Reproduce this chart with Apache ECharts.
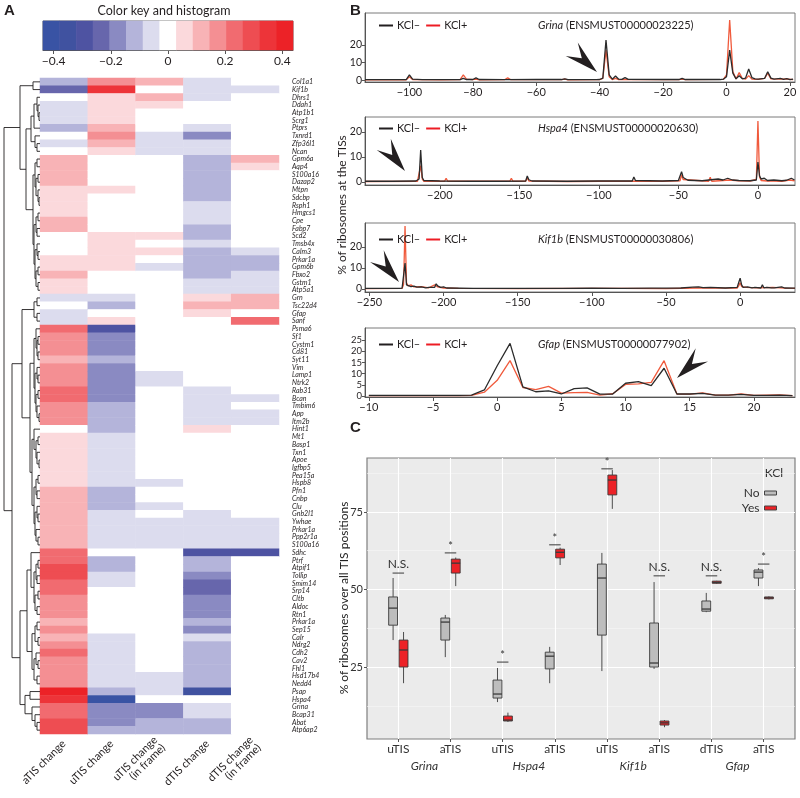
<!DOCTYPE html>
<html>
<head>
<meta charset="utf-8">
<script src="https://cdn.jsdelivr.net/npm/echarts@6/dist/echarts.min.js"></script>
<style>
html, body { margin: 0; padding: 0; background: #fff; }
#chart { width: 800px; height: 798px; }
</style>
</head>
<body>
<div id="chart"></div>
<script>
// ---------- panel A : heatmap ----------
var genes = ['Col1a1','Kif1b','Dhrs1','Ddah1','Atp1b1','Scrg1','Ptprs','Txnrd1','Zfp36l1','Ncan',
  'Gpm6a','Aqp4','S100a16','Dazap2','Mtpn','Sdcbp','Rsph1','Hmgcs1','Cpe','Fabp7',
  'Scd2','Tmsb4x','Calm3','Prkar1a','Gpm6b','Fbxo2','Gstm1','Atp5a1','Grn','Tsc22d4',
  'Gfap','Sanf','Psma6','Sf1','Cystm1','Cd81','Syt11','Vim','Lamp1','Ntrk2',
  'Rab31','Bcan','Tmbim6','App','Itm2b','Hint1','Mt1','Basp1','Txn1','Apoe',
  'Igfbp5','Pea15a','Hspb8','Pfn1','Cnbp','Clu','Gnb2l1','Ywhae','Prkar1a','Ppp2r1a',
  'S100a16','Sdhc','Ptrf','Atpif1','Tollip','Smim14','Srp14','Cltb','Aldoc','Rtn1',
  'Prkar1a','Sep15','Calr','Ndrg2','Cdh2','Cav2','Fhl1','Hsd17b4','Nedd4','Psap',
  'Hspa4','Grina','Bcap31','Abat','Atp6ap2'];
var colLabels = ['aTIS change','uTIS change','uTIS change\n(in frame)','dTIS change','dTIS change\n(in frame)'];

var aTIS = [-0.12,-0.23,0,-0.06,-0.06,-0.06,-0.12,0,-0.06,0,
  0.12,0.12,0.12,0.12,0.06,0.06,0.06,0.06,0.12,0.12,
  0,0,0,0.06,0.06,0.12,0.06,0.06,-0.06,0,
  -0.06,-0.06,0.23,0.17,0.17,0.17,0.12,0.17,0.17,0.17,
  0.23,0.23,0.17,0.17,0.17,0,0.06,0.06,0.06,0.06,
  0.06,0.06,0.06,0.12,0.12,0.12,0.12,0.12,0.12,0.12,
  0.12,0.23,0.23,0.29,0.29,0.23,0.23,0.17,0.17,0.17,
  0.12,0.17,0.12,0.17,0.23,0.17,0.17,0.17,0.17,0.41,
  0.35,0.23,0.23,0.29,0.29];
var uTIS = [0.17,0.35,0.06,0.06,0.06,0.06,0.12,0.17,0.12,0.06,
  0,0,0,0,0.06,0,0,0,0,0,
  0.06,0.06,0.06,0.06,0.06,0,0,0,-0.06,-0.12,
  0,0.06,-0.29,-0.17,-0.17,-0.17,-0.12,-0.17,-0.17,-0.17,
  -0.17,-0.17,-0.12,-0.12,-0.12,-0.12,-0.06,-0.06,-0.06,-0.06,
  -0.06,-0.06,-0.06,-0.12,-0.12,-0.12,-0.06,-0.06,-0.06,-0.06,
  -0.06,0,-0.12,-0.12,-0.06,-0.06,0,0,0,0,
  0,0,-0.06,-0.06,-0.06,-0.06,-0.06,-0.06,-0.06,-0.12,
  -0.41,-0.17,-0.17,-0.17,-0.12];
var uTISframe = [0.12,0,0.12,0.06,0,0,0,-0.06,-0.06,-0.06,
  0,0,0,0,0,0,0,0,0,0,
  0.06,0,0.06,0,-0.06,0,0,0,0,0,
  0,0,0,0,0,0,0,0,-0.06,-0.06,
  0,0,0,0,0,0,0,0,0,0,
  0,0,-0.06,0,0,-0.06,0,-0.06,-0.06,-0.06,
  -0.06,0,0,0,0,0,0,0,0,0,
  0,0,0,0,0,0,0,-0.06,-0.06,-0.06,
  0,-0.17,-0.17,-0.12,-0.12];
var dTIS = [-0.06,-0.06,-0.06,0,0,0,-0.06,-0.17,-0.06,-0.06,
  -0.12,-0.12,-0.12,-0.12,-0.12,-0.12,-0.06,-0.06,-0.06,-0.12,
  -0.12,-0.06,-0.12,-0.12,-0.12,-0.12,-0.06,-0.06,0.06,0.12,
  0.06,0,0,0,0,0,0,0,0,0,
  -0.06,-0.06,-0.06,-0.06,-0.06,0.06,0,0,0,0,
  0,0,0,0,0,0,-0.06,-0.06,-0.06,-0.06,
  -0.06,-0.29,-0.12,-0.12,-0.17,-0.23,-0.23,-0.17,-0.17,-0.17,
  -0.12,-0.17,-0.06,-0.12,-0.12,-0.12,-0.12,-0.12,-0.12,-0.35,
  0,-0.06,-0.06,-0.12,-0.12];
var dTISframe = [0,-0.06,0,0,0,0,0,0,0,0,
  0.12,0.06,0,0,0,0,0,0,0,0,
  0,0,-0.06,-0.12,-0.12,-0.06,-0.06,-0.06,0.12,0.12,
  0,0.23,0,0,0,0,0,0,0,0,
  0,-0.06,0,-0.06,-0.06,0,0,0,0,0,
  0,0,0,0,0,0,0,-0.06,-0.06,-0.06,
  -0.06,-0.29,0,0,0,0,0,0,0,0,
  0,0,0,0,0,0,0,0,0,0,
  0,0,0,0,0];

// colour key (15 bins)
var keyValues = [-0.41,-0.35,-0.29,-0.23,-0.17,-0.12,-0.06,0,0.06,0.12,0.17,0.23,0.29,0.35,0.41];
var keyEdges = [-0.4375,-0.3792,-0.3208,-0.2625,-0.2042,-0.1458,-0.0875,-0.0292,0.0292,0.0875,0.1458,0.2042,0.2625,0.3208,0.3792,0.4375];
var keyColors = ['#3953a4','#4052a0','#4e53a2','#6766ac','#8a8ac2','#b4b4da','#dcdcee','#ffffff',
  '#fbd9dc','#f8b3b6','#f48f93','#f16b70','#ee4d52','#ed3439','#ec2227'];
var keyTicks = [-0.4, -0.2, 0, 0.2, 0.4];

// row dendrogram: [height, left, right], leaves = row index
var dendro = [36,
  [20, [7, 0, 1],
       [14, [9, [6, [3, 2, [2, 3, [1, 4, 5]]], 6], [5, 7, [3, 8, 9]]],
            [7, [5, [3, 10, 11], [4, [2, 12, 13], [2, 14, [1, 15, 16]]]],
                [6, [4, [2, 17, 18], [3, 19, 20]], [5, [3, 21, [2, 22, 23]], [4, [2, 24, 25], [2, 26, 27]]]]]]],
  [28, [18, [6, [3, 28, 29], [3, 30, 31]],
            [10, [6, [4, 32, [3, [2, 33, 34], [2, 35, 36]]], [5, [3, 37, [2, 38, 39]], [4, [2, 40, 41], [3, 42, [1, 43, 44]]]]],
                 [8, [6, 45, [4, [2, 46, 47], [3, 48, [1, 49, 50]]]], [6, [4, [2, 51, 52], [3, 53, 54]], [5, [3, 55, [2, 56, 57]], [4, 58, [2, 59, 60]]]]]]],
       [20, [13, [9, 61, [6, [4, [2, 62, 63], [3, 64, 65]], [5, [2, 66, 67], [3, 68, 69]]]],
                 [8, [5, [3, 70, 71], [2, 72, 73]], [6, [4, 74, [2, 75, 76]], [3, 77, 78]]]],
            [15, [10, 79, 80], [8, 81, [5, 82, [3, 83, 84]]]]]]];

// ---------- panel B : ribosome profiles ----------
var grinaMinus = [[-114,0.3],[-101,0.4],[-100,3],[-99,0.6],[-96,0.3],[-84,0.3],[-83,1],[-82,0.4],[-80,0.4],[-79,1.3],[-78,0.4],[-70,0.3],[-60,0.4],[-52,0.4],[-51,0.8],[-50,0.3],[-41,0.3],[-40,0.4],[-39,1.2],[-38,22.7],[-37,3],[-36,0.6],[-35,2.4],[-34,0.6],[-33,0.5],[-32,1.5],[-31,0.5],[-20,0.4],[-15,0.4],[-14,1],[-13,0.4],[-2,0.4],[-1,0.6],[0,2],[1,17],[2,4],[3,0.8],[4,2.5],[5,0.8],[6,1.2],[7,6.3],[8,1.5],[9,0.8],[10,0.6],[12,1],[13,4.8],[14,1.2],[15,0.6],[17,1],[18,0.5],[19,0.9],[20,0.4],[21,0.6]];
var grinaPlus = [[-114,0.2],[-101,0.2],[-100,2],[-99,0.4],[-90,0.2],[-84,0.3],[-83,3],[-82,0.6],[-80,0.3],[-79,0.6],[-78,0.2],[-70,0.3],[-69,1.3],[-68,0.3],[-52,0.3],[-51,0.6],[-50,0.2],[-40,0.3],[-39,1],[-38,17],[-37,2],[-36,0.4],[-35,1],[-34,0.3],[-20,0.3],[-15,0.3],[-14,0.6],[-13,0.3],[-1,0.5],[0,3],[1,34],[2,5],[3,0.7],[4,4.3],[5,1],[6,0.6],[7,2.6],[8,0.6],[10,0.5],[12,1],[13,4],[14,0.8],[17,0.6],[19,0.7],[21,0.4]];
var hspa4Minus = [[-247,0.3],[-230,0.3],[-215,0.4],[-214,0.5],[-213,1.2],[-212,12.8],[-211,1.8],[-210,0.6],[-205,0.5],[-200,0.4],[-180,0.3],[-160,0.3],[-146,0.4],[-145,2.4],[-144,0.9],[-142,0.4],[-120,0.3],[-100,0.4],[-79,0.4],[-78,2],[-77,0.6],[-60,0.4],[-50,0.6],[-49,1],[-48,4.1],[-47,1.8],[-46,1.4],[-44,0.7],[-35,0.5],[-28,1],[-25,1.2],[-22,0.8],[-19,1.5],[-16,0.8],[-12,0.6],[-5,0.5],[-1,0.8],[0,8],[1,2.5],[2,1.2],[3,0.7],[4,1.5],[6,0.6],[10,0.8],[15,0.5],[18,0.7],[21,1.5],[23,0.8]];
var hspa4Plus = [[-247,0.2],[-214,0.3],[-213,1],[-212,6.5],[-211,1.2],[-210,0.3],[-197,0.3],[-196,1.5],[-195,0.3],[-156,0.3],[-155,1.5],[-154,0.3],[-146,0.3],[-145,1.6],[-144,0.4],[-120,0.2],[-99,0.3],[-98,1],[-97,0.3],[-60,0.3],[-49,0.5],[-48,2.8],[-47,1],[-46,0.5],[-31,0.3],[-30,1.9],[-29,0.3],[-22,0.6],[-18,0.8],[-12,0.5],[-5,0.4],[-1,1],[0,24.4],[1,2],[2,0.6],[6,0.4],[10,0.4],[15,0.3],[20,0.8],[23,0.5]];
var kif1bMinus = [[-253,0.3],[-230,0.3],[-228,0.4],[-227,1],[-226,12.4],[-225,2],[-224,1.8],[-222,1.2],[-220,1.4],[-218,0.9],[-215,1],[-212,0.6],[-210,0.8],[-206,0.8],[-205,2.5],[-204,1.5],[-202,0.8],[-200,1],[-198,0.5],[-180,0.3],[-150,0.3],[-120,0.3],[-100,0.4],[-80,0.3],[-60,0.4],[-40,0.5],[-32,0.9],[-28,1],[-25,0.7],[-20,0.8],[-10,0.5],[-2,0.8],[-1,3],[0,5.2],[1,2],[2,0.8],[5,1],[8,0.6],[10,0.8],[14,0.5],[15,2],[16,0.6],[18,0.8],[21,0.6],[22,1.5],[23,0.6],[28,1],[30,0.5],[37,0.4]];
var kif1bPlus = [[-253,0.2],[-228,0.3],[-227,2],[-226,30],[-225,3],[-224,1.5],[-222,2],[-220,1],[-215,1.2],[-210,0.6],[-206,2],[-204,1],[-200,0.5],[-190,0.3],[-150,0.2],[-100,0.3],[-82,0.3],[-81,1],[-80,0.3],[-50,0.2],[-30,0.5],[-10,0.4],[-2,0.5],[-1,1.5],[0,3],[1,1.2],[2,0.5],[4,0.8],[12,0.6],[22,0.8],[30,0.4],[37,0.3]];
var gfapPos = [-10,-9,-8,-7,-6,-5,-4,-3,-2,-1,0,1,2,3,4,5,6,7,8,9,10,11,12,13,14,15,16,17,18,19,20,21,22,23];
var gfapMinus = [0.3,0.3,0.3,0.3,0.3,0.3,0.3,0.3,0.4,2.7,13.5,23.5,4.1,1.9,2.3,0.9,3.3,3.6,0.8,0.9,5.7,6.4,4.6,12.4,0.9,0.9,1.2,0.4,0.4,0.7,0.3,0.3,0.4,0.2];
var gfapPlus = [0.2,0.2,0.2,0.2,0.2,0.2,0.2,0.2,0.3,1.7,7,15.8,3.8,2.8,4.3,1.3,1.5,1.6,0.4,1,5.2,5.4,6.1,15.8,0.9,0.8,1.4,0.4,0.4,0.9,0.3,0.4,0.5,0.2];

// ---------- panel C : boxplots ----------
var tisLabels = ['uTIS','aTIS','uTIS','aTIS','uTIS','aTIS','dTIS','aTIS'];
var geneGroups = ['Grina','Hspa4','Kif1b','Gfap'];
// [min, Q1, median, Q3, max]
var boxNo = [[33.7,38.5,44,47.6,53.7],[28.2,33.7,39.5,40.8,41.8],[13.7,15,16.3,20.8,24.7],[19.8,24.4,28.5,29.8,31.5],
  [23.7,35.3,53.7,58.2,61.8],[24.4,25,26.3,39.2,52.4],[42.7,43,43.7,46.3,48.9],[51.1,53.7,55.6,56.3,56.9]];
var boxYes = [[19.8,25,30.5,33.7,36.3],[51.1,55.3,58.5,59.8,60.3],[7.3,7.6,7.9,9.2,10.3],[57.9,60.2,62,63,63.5],
  [76,80.5,85.3,86.9,88.5],[5.6,6.3,7,7.6,7.9],[51.8,52,52.3,52.7,52.8],[46.8,47,47.3,47.6,47.8]];
var sigText = ['N.S.','*','*','*','*','N.S.','N.S.','*'];
var sigLevel = [55.3,61.8,26.6,64.4,88.9,54.4,54.4,58.2];

// ---------- helpers ----------
var FONT = 'Lato';
var DARK = '#231f20';

function fmtNum(v) {
  return v < 0 ? '\u2212' + Math.abs(v) : String(v);
}

var dendroSegs = [];
function walk(node) {
  if (typeof node === 'number') return { y: node + 0.5, h: 0 };
  var a = walk(node[1]), b = walk(node[2]);
  dendroSegs.push([node[0], a.y, b.y, a.h, b.h]);
  return { y: (a.y + b.y) / 2, h: node[0] };
}
walk(dendro);

var heatData = [];
[aTIS, uTIS, uTISframe, dTIS, dTISframe].forEach(function (col, c) {
  col.forEach(function (v, r) { heatData.push([c, r, v]); });
});

var pieces = keyColors.map(function (c, i) {
  return { gte: keyEdges[i], lt: keyEdges[i + 1], color: c };
});

function zip(pos, vals) {
  return pos.map(function (p, i) { return [p, vals[i]]; });
}

var bCharts = [
  { top: 13, height: 69, xmin: -114, xmax: 21.6, ymin: -1, ymax: 38, xt: [-100,-80,-60,-40,-20,0,20], yt: [0,10,20], minus: grinaMinus, plus: grinaPlus, gene: 'Grina', id: 'ENSMUST00000023225', ty: 22 },
  { top: 117, height: 68, xmin: -247, xmax: 23.3, ymin: -1.2, ymax: 26, xt: [-200,-150,-100,-50,0], yt: [0,10,20], minus: hspa4Minus, plus: hspa4Plus, gene: 'Hspa4', id: 'ENSMUST00000020630', ty: 125 },
  { top: 223, height: 69, xmin: -253, xmax: 37, ymin: -1.4, ymax: 31.4, xt: [-250,-200,-150,-100,-50,0], yt: [0,10,20], minus: kif1bMinus, plus: kif1bPlus, gene: 'Kif1b', id: 'ENSMUST00000030806', ty: 236 },
  { top: 328, height: 69, xmin: -10.3, xmax: 23.2, ymin: -0.45, ymax: 30.4, xt: [-10,-5,0,5,10,15,20], yt: [0,5,10,15,20,25], minus: zip(gfapPos, gfapMinus), plus: zip(gfapPos, gfapPlus), gene: 'Gfap', id: 'ENSMUST00000077902', ty: 341 }
];

function arrowHead(tip, from, len, hw) {
  var dx = tip[0] - from[0], dy = tip[1] - from[1];
  var d = Math.sqrt(dx * dx + dy * dy);
  var ux = dx / d, uy = dy / d, nx = -uy, ny = ux;
  var bx = tip[0] - ux * len, by = tip[1] - uy * len;
  return {
    type: 'polygon',
    shape: { points: [tip, [bx + nx * hw, by + ny * hw], [tip[0] - ux * len * 0.6, tip[1] - uy * len * 0.6], [bx - nx * hw, by - ny * hw]] },
    style: { fill: DARK }
  };
}

// ---------- option ----------
var grids = [
  { left: 43, top: 21, width: 250, height: 29, show: true, borderColor: '#666', borderWidth: 1 },
  { left: 40, top: 78, width: 239, height: 656 },
  { left: 3, top: 78, width: 37, height: 656 }
];
var xAxes = [
  { type: 'category', gridIndex: 0, data: keyValues, show: false },
  { type: 'value', gridIndex: 0, min: -0.4375, max: 0.4375, position: 'bottom',
    axisLine: { show: true, onZero: false, lineStyle: { color: '#555' } },
    axisTick: { show: true, customValues: keyTicks, length: 4, lineStyle: { color: '#555' } },
    axisLabel: { customValues: keyTicks, formatter: fmtNum, fontSize: 12, color: DARK, fontFamily: FONT, margin: 5 },
    splitLine: { show: false } },
  { type: 'category', gridIndex: 1, data: colLabels, position: 'bottom',
    axisLine: { show: false }, axisTick: { show: false },
    axisLabel: { rotate: 45, interval: 0, fontSize: 11, color: DARK, fontFamily: FONT, margin: 8 } },
  { type: 'value', gridIndex: 2, min: 0, max: 37, inverse: true, show: false }
];
var yAxes = [
  { type: 'category', gridIndex: 0, data: ['key'], show: false },
  { type: 'category', gridIndex: 1, data: genes, inverse: true, position: 'right',
    axisLine: { show: false }, axisTick: { show: false },
    axisLabel: { interval: 0, fontSize: 7, fontStyle: 'italic', color: DARK, fontFamily: FONT, margin: 13 } },
  { type: 'value', gridIndex: 2, min: 0, max: genes.length, inverse: true, show: false }
];
var series = [
  { type: 'heatmap', xAxisIndex: 0, yAxisIndex: 0, silent: true,
    data: keyValues.map(function (v, i) { return [i, 0, v]; }) },
  { type: 'heatmap', xAxisIndex: 2, yAxisIndex: 1, silent: true, data: heatData },
  { type: 'custom', xAxisIndex: 3, yAxisIndex: 2, silent: true, data: dendroSegs,
    renderItem: function (params, api) {
      var h = api.value(0), ya = api.value(1), yb = api.value(2), ha = api.value(3), hb = api.value(4);
      return { type: 'polyline',
        shape: { points: [api.coord([ha, ya]), api.coord([h, ya]), api.coord([h, yb]), api.coord([hb, yb])] },
        style: { stroke: DARK, lineWidth: 0.9, fill: 'none' } };
    } }
];
var titles = [];
var legends = [];

bCharts.forEach(function (b, k) {
  var gi = grids.length;
  grids.push({ left: 365, top: b.top, width: 430, height: b.height, show: true, borderColor: '#7a7a7a', borderWidth: 1 });
  var xi = xAxes.length, yi = yAxes.length;
  xAxes.push({ type: 'value', gridIndex: gi, min: b.xmin, max: b.xmax,
    axisLine: { show: true, onZero: false, lineStyle: { color: '#555' } },
    axisTick: { show: true, customValues: b.xt, length: 4, lineStyle: { color: '#555' } },
    axisLabel: { customValues: b.xt, formatter: fmtNum, fontSize: 11, color: DARK, fontFamily: FONT, margin: 5 },
    splitLine: { show: false } });
  yAxes.push({ type: 'value', gridIndex: gi, min: b.ymin, max: b.ymax,
    axisLine: { show: true, onZero: false, lineStyle: { color: '#555' } },
    axisTick: { show: true, customValues: b.yt, length: 3, lineStyle: { color: '#555' } },
    axisLabel: { customValues: b.yt, fontSize: b.yt.length > 3 ? 9.5 : 10.5, color: DARK, fontFamily: FONT, margin: 3 },
    splitLine: { show: false } });
  series.push({ name: 'KCl+', type: 'line', xAxisIndex: xi, yAxisIndex: yi, data: b.plus,
    showSymbol: false, silent: true, color: '#f05a3c', lineStyle: { width: 1.3 } });
  series.push({ name: 'KCl\u2013', type: 'line', xAxisIndex: xi, yAxisIndex: yi, data: b.minus,
    showSymbol: false, silent: true, color: '#2b2b2b', lineStyle: { width: 1.3 } });
  titles.push({ text: '{i|' + b.gene + '} (' + b.id + ')', left: 533, top: b.ty - 7,
    textStyle: { fontSize: 11, fontWeight: 'normal', color: DARK, fontFamily: FONT,
      rich: { i: { fontStyle: 'italic', fontSize: 11, color: DARK, fontFamily: FONT } } } });
  legends.push({ left: 374, top: b.ty - 7, icon: 'rect', itemWidth: 14, itemHeight: 2, itemGap: 6,
    selectedMode: false, textStyle: { fontSize: 11, color: DARK, fontFamily: FONT, padding: [0, 0, 0, -1] },
    data: [{ name: 'KCl\u2013', itemStyle: { color: DARK } }, { name: 'KCl+', itemStyle: { color: '#ed1c24' } }] });
});

// panel C grid
var gC = grids.length;
grids.push({ left: 367, top: 458, width: 428, height: 281, show: true, backgroundColor: '#ebebeb', borderColor: '#7f7f7f', borderWidth: 1.2 });
var xC = xAxes.length;
xAxes.push({ type: 'value', gridIndex: gC, min: -0.6, max: 7.6,
  axisLine: { show: false, onZero: false },
  axisTick: { show: true, customValues: [0,1,2,3,4,5,6,7], length: 3, lineStyle: { color: '#555' } },
  axisLabel: { customValues: [0,1,2,3,4,5,6,7], formatter: function (v) { return tisLabels[v]; },
    fontSize: 12, color: '#333', fontFamily: FONT, margin: 4 },
  splitLine: { show: true, lineStyle: { color: '#ffffff', width: 1.1 } } });
xAxes.push({ type: 'value', gridIndex: gC, min: -0.6, max: 7.6, position: 'bottom', offset: 17,
  axisLine: { show: false, onZero: false }, axisTick: { show: false, customValues: [0.5,2.5,4.5,6.5] },
  axisLabel: { customValues: [0.5,2.5,4.5,6.5], formatter: function (v) { return geneGroups[(v - 0.5) / 2]; },
    fontSize: 12, fontStyle: 'italic', color: '#333', fontFamily: FONT, margin: 4 },
  splitLine: { show: false } });
var yC = yAxes.length;
yAxes.push({ type: 'value', gridIndex: gC, min: 1.8, max: 92.4, position: 'left',
  axisLine: { show: false, onZero: false },
  axisTick: { show: true, customValues: [25,50,75], length: 3, lineStyle: { color: '#555' } },
  axisLabel: { customValues: [25,50,75], fontSize: 11, color: '#333', fontFamily: FONT, margin: 4 },
  splitLine: { show: true, lineStyle: { color: '#ffffff', width: 1.1 } } });
yAxes.push({ type: 'value', gridIndex: gC, min: 1.8, max: 92.4, position: 'right',
  axisLine: { show: false, onZero: false }, axisTick: { show: false, customValues: [12.5,37.5,62.5,87.5] },
  axisLabel: { show: false, customValues: [12.5,37.5,62.5,87.5] },
  splitLine: { show: true, lineStyle: { color: '#f7f7f7', width: 0.6 } } });

function boxRenderer(offsetFrac) {
  return function (params, api) {
    var c = api.value(0);
    var band = api.size([1, 0])[0];
    var w = band * 0.17;
    var pMin = api.coord([c, api.value(1)]), pQ1 = api.coord([c, api.value(2)]);
    var pMed = api.coord([c, api.value(3)]), pQ3 = api.coord([c, api.value(4)]);
    var pMax = api.coord([c, api.value(5)]);
    var x = pMin[0] + band * offsetFrac;
    var st = { stroke: '#3a3a3a', lineWidth: 0.9 };
    return { type: 'group', children: [
      { type: 'line', shape: { x1: x, y1: pMax[1], x2: x, y2: pQ3[1] }, style: st },
      { type: 'line', shape: { x1: x, y1: pQ1[1], x2: x, y2: pMin[1] }, style: st },
      { type: 'rect', shape: { x: x - w / 2, y: pQ3[1], width: w, height: Math.max(pQ1[1] - pQ3[1], 1) },
        style: { fill: api.visual('color'), stroke: '#3a3a3a', lineWidth: 0.9 } },
      { type: 'line', shape: { x1: x - w / 2, y1: pMed[1], x2: x + w / 2, y2: pMed[1] }, style: { stroke: '#3a3a3a', lineWidth: 1.3 } }
    ] };
  };
}
series.push({ name: 'No', type: 'custom', xAxisIndex: xC, yAxisIndex: yC, silent: true,
  itemStyle: { color: '#bdbdbd' },
  data: boxNo.map(function (b, i) { return [i].concat(b); }), renderItem: boxRenderer(-0.1) });
series.push({ name: 'Yes', type: 'custom', xAxisIndex: xC, yAxisIndex: yC, silent: true,
  itemStyle: { color: '#ec2227' },
  data: boxYes.map(function (b, i) { return [i].concat(b); }), renderItem: boxRenderer(0.1) });
series.push({ type: 'custom', xAxisIndex: xC, yAxisIndex: yC, silent: true,
  data: sigLevel.map(function (v, i) { return [i, v]; }),
  renderItem: function (params, api) {
    var p = api.coord([api.value(0), api.value(1)]);
    var hw = api.size([1, 0])[0] * 0.11;
    var txt = sigText[params.dataIndex];
    return { type: 'group', children: [
      { type: 'line', shape: { x1: p[0] - hw, y1: p[1], x2: p[0] + hw, y2: p[1] }, style: { stroke: '#3a3a3a', lineWidth: 1 } },
      { type: 'text', x: p[0], y: txt === '*' ? p[1] - 1 : p[1] - 3,
        style: { text: txt, align: 'center', verticalAlign: 'bottom', fill: '#333',
          fontSize: txt === '*' ? 11 : 12, fontFamily: FONT } }
    ] };
  } });

legends.push({ right: 18, top: 482, orient: 'vertical', align: 'right', icon: 'rect',
  itemWidth: 12, itemHeight: 4, itemGap: 3, selectedMode: false,
  textStyle: { fontSize: 12, color: '#333', fontFamily: FONT },
  data: [{ name: 'No', itemStyle: { color: '#bdbdbd', borderColor: '#444', borderWidth: 1 } },
         { name: 'Yes', itemStyle: { color: '#ec2227', borderColor: '#444', borderWidth: 1 } }] });

var graphics = [
  { type: 'text', left: 4, top: 3, style: { text: 'A', fontSize: 15, fontWeight: 'bold', fontFamily: 'Liberation Sans', fill: DARK } },
  { type: 'text', left: 350, top: 3, style: { text: 'B', fontSize: 15, fontWeight: 'bold', fontFamily: 'Liberation Sans', fill: DARK } },
  { type: 'text', left: 350, top: 420, style: { text: 'C', fontSize: 15, fontWeight: 'bold', fontFamily: 'Liberation Sans', fill: DARK } },
  { type: 'text', x: 164, y: 11, style: { text: 'Color key and histogram', align: 'center', verticalAlign: 'middle', fontSize: 12.5, fontFamily: FONT, fill: DARK } },
  { type: 'text', x: 342, y: 205, rotation: Math.PI / 2, style: { text: '% of ribosomes at the TISs', align: 'center', verticalAlign: 'middle', fontSize: 12, fontFamily: FONT, fill: DARK } },
  { type: 'text', x: 344, y: 598, rotation: Math.PI / 2, style: { text: '% of ribosomes over all TIS positions', align: 'center', verticalAlign: 'middle', fontSize: 12, fontFamily: FONT, fill: '#222' } },
  { type: 'text', x: 774, y: 473, style: { text: 'KCl', align: 'center', verticalAlign: 'middle', fontSize: 12, fontFamily: FONT, fill: '#333' } },
  arrowHead([597, 72], [567, 45], 34, 9),
  arrowHead([405, 171], [381, 141], 34, 9),
  arrowHead([399, 282], [375, 254], 34, 9),
  arrowHead([677, 378], [707, 350], 34, 9)
];

var option = {
  animation: false,
  backgroundColor: '#ffffff',
  textStyle: { fontFamily: FONT },
  title: titles,
  legend: legends,
  grid: grids,
  xAxis: xAxes,
  yAxis: yAxes,
  visualMap: { type: 'piecewise', show: false, seriesIndex: [0, 1], dimension: 2, pieces: pieces },
  graphic: graphics,
  series: series
};

var chart = echarts.init(document.getElementById('chart'), null, { renderer: 'canvas' });
chart.setOption(option);
</script>
</body>
</html>
